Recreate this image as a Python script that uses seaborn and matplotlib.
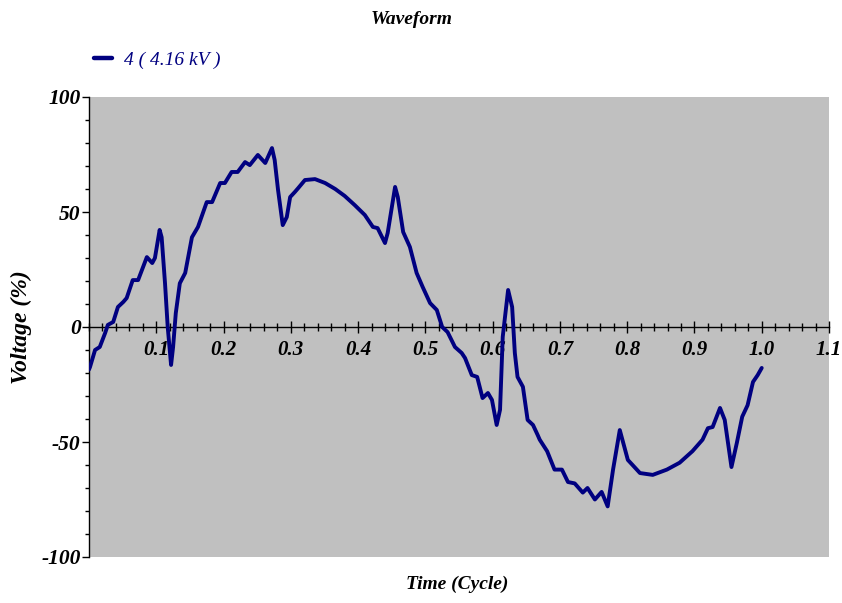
import matplotlib
matplotlib.use("Agg")
import matplotlib.pyplot as plt
import seaborn as sns
import pandas as pd
from matplotlib.ticker import MultipleLocator, FixedLocator

# ---- data ----
time_cycle = [0.000, 0.0015, 0.009, 0.016, 0.024, 0.028, 0.036, 0.043, 0.051, 0.056,
              0.065, 0.073, 0.086, 0.094, 0.098, 0.105, 0.108, 0.113, 0.117, 0.122,
              0.125, 0.129, 0.135, 0.143, 0.153, 0.162, 0.175, 0.183, 0.195, 0.202,
              0.212, 0.221, 0.232, 0.239, 0.251, 0.262, 0.272, 0.276, 0.281, 0.288,
              0.294, 0.299, 0.306, 0.311, 0.321, 0.336, 0.351, 0.366, 0.380, 0.395,
              0.410, 0.422, 0.429, 0.440, 0.444, 0.455, 0.459, 0.467, 0.477, 0.487,
              0.496, 0.507, 0.517, 0.525, 0.533, 0.544, 0.554, 0.559, 0.569, 0.577,
              0.585, 0.593, 0.599, 0.606, 0.611, 0.615, 0.623, 0.629, 0.633, 0.637,
              0.645, 0.652, 0.660, 0.667, 0.670, 0.681, 0.692, 0.703, 0.712, 0.722,
              0.734, 0.741, 0.752, 0.762, 0.771, 0.779, 0.789, 0.801, 0.808, 0.819,
              0.838, 0.859, 0.878, 0.897, 0.912, 0.920, 0.927, 0.938, 0.945, 0.955,
              0.963, 0.971, 0.979, 0.987, 0.994, 1.000]
voltage_pct = [-18.5, -17.4, -10.0, -8.7, -2.6, 0.9, 2.2, 8.7, 10.9, 12.6,
               20.4, 20.4, 30.4, 27.8, 30.0, 42.2, 39.0, 19.0, 0.0, -16.5,
               -8.7, 6.0, 19.0, 23.5, 39.0, 43.5, 54.3, 54.3, 62.6, 62.6,
               67.4, 67.4, 71.7, 70.4, 74.8, 71.3, 77.8, 72.6, 59.6, 44.3,
               47.8, 56.5, 58.7, 60.4, 63.9, 64.3, 62.6, 60.0, 57.0, 53.0,
               48.7, 43.5, 43.0, 36.5, 40.9, 60.9, 56.5, 41.3, 34.8, 23.5,
               17.4, 10.4, 7.4, 0.0, -2.2, -8.7, -11.3, -13.5, -20.9, -21.7,
               -30.9, -28.7, -31.7, -42.6, -36.0, -4.3, 16.1, 8.7, -11.3, -21.7,
               -26.0, -40.4, -42.6, -47.0, -49.0, -54.0, -62.0, -62.0, -67.4, -68.0,
               -72.0, -70.0, -75.0, -71.7, -78.0, -62.0, -44.8, -57.8, -60.0, -63.5,
               -64.3, -62.0, -59.0, -54.0, -49.0, -44.0, -43.5, -35.2, -40.4, -60.9,
               -50.4, -39.0, -34.0, -23.9, -20.9, -17.8]
series_label = "4 ( 4.16 kV )"
x_ticks = [0.1, 0.2, 0.3, 0.4, 0.5, 0.6, 0.7, 0.8, 0.9, 1.0, 1.1]
x_tick_labels = ["0.1", "0.2", "0.3", "0.4", "0.5", "0.6", "0.7", "0.8", "0.9", "1.0", "1.1"]
y_ticks = [-100, -50, 0, 50, 100]
y_tick_labels = ["-100", "-50", "0", "50", "100"]

df = pd.DataFrame({"Time": time_cycle, "Voltage": voltage_pct})

sns.set_style("white")
plt.rcParams["font.family"] = ["Liberation Serif", "DejaVu Serif"]
plt.rcParams["axes.unicode_minus"] = False
plt.rcParams["text.color"] = "black"
plt.rcParams["axes.labelcolor"] = "black"
plt.rcParams["xtick.color"] = "black"
plt.rcParams["ytick.color"] = "black"

W, H = 842, 603
fig = plt.figure(figsize=(W / 100, H / 100), dpi=100)
ax = fig.add_axes([89 / W, 1 - 557 / H, (829 - 89) / W, (557 - 97) / H])
ax.set_facecolor("#C0C0C0")

navy = "#000080"
sns.lineplot(data=df, x="Time", y="Voltage", ax=ax, color=navy, linewidth=2.8,
             label=series_label, sort=False, estimator=None)

ax.set_xlim(0, 1.1)
ax.set_ylim(-100, 100)

# spines
for s in ["top", "right"]:
    ax.spines[s].set_visible(False)
ax.spines["bottom"].set_position(("data", 0))
ax.spines["bottom"].set_color("black")
ax.spines["bottom"].set_linewidth(1.0)
ax.spines["left"].set_color("black")
ax.spines["left"].set_linewidth(1.0)
ax.spines["bottom"].set_zorder(1)

# ticks
ax.xaxis.set_major_locator(FixedLocator(x_ticks))
ax.set_xticklabels(x_tick_labels)
ax.xaxis.set_minor_locator(MultipleLocator(0.02))
ax.yaxis.set_major_locator(FixedLocator(y_ticks))
ax.set_yticklabels(y_tick_labels)
ax.yaxis.set_minor_locator(MultipleLocator(10))

ax.tick_params(axis="x", which="major", direction="inout", length=9, width=1.0,
               color="black", labelcolor="black", pad=5, bottom=True)
ax.tick_params(axis="x", which="minor", direction="inout", length=6, width=1.0,
               color="black", bottom=True)
ax.tick_params(axis="y", which="major", direction="out", length=5, width=1.0,
               color="black", labelcolor="black", pad=1, left=True)
ax.tick_params(axis="y", which="minor", direction="out", length=3, width=1.0,
               color="black", left=True)

for lab in ax.get_xticklabels():
    lab.set_fontsize(15)
    lab.set_fontweight("bold")
    lab.set_fontstyle("italic")
for lab in ax.get_yticklabels():
    lab.set_fontsize(15.5)
    lab.set_fontweight("bold")
    lab.set_fontstyle("italic")

ax.set_xlabel("")
ax.set_ylabel("Voltage (%)", fontsize=17, fontweight="bold", fontstyle="italic",
              labelpad=7, color="black")

# line on top of axis line
ax.lines[0].set_zorder(3)

# title and x label as figure text
fig.text(412 / W, 1 - 19 / H, "Waveform", ha="center", va="center",
         fontsize=14, fontweight="bold", fontstyle="italic", color="black")
fig.text(457 / W, 1 - 584 / H, "Time (Cycle)", ha="center", va="center",
         fontsize=14, fontweight="bold", fontstyle="italic", color="black")

# legend
leg = ax.legend(loc="center left", bbox_to_anchor=(94 / W, 1 - 60 / H),
                bbox_transform=fig.transFigure, frameon=False,
                handlelength=0.95, handletextpad=0.6, borderpad=0, borderaxespad=0,
                prop={"family": "Liberation Serif", "style": "italic", "size": 14})
for t in leg.get_texts():
    t.set_color(navy)
for h in leg.get_lines():
    h.set_linewidth(3.2)

fig.savefig("out.png", dpi=100, facecolor="white")
